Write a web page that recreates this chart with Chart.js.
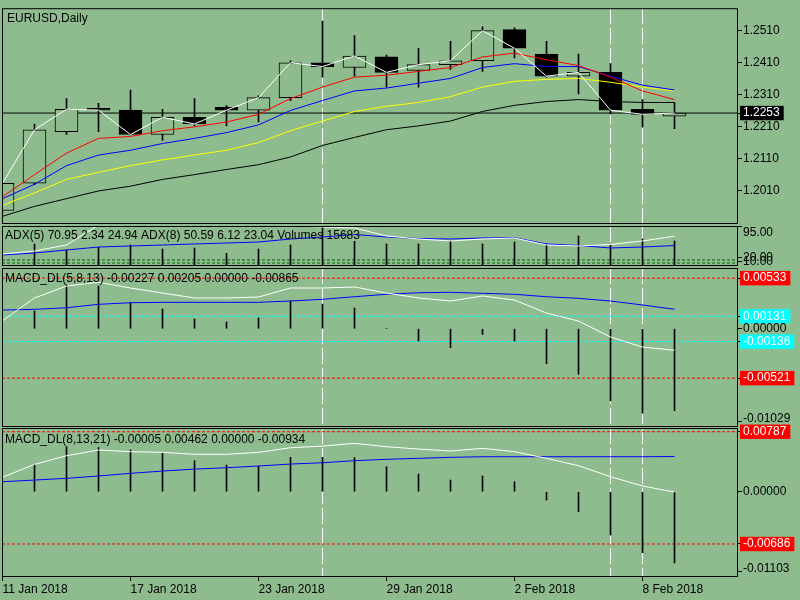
<!DOCTYPE html>
<html>
<head>
<meta charset="utf-8">
<script src="https://cdn.jsdelivr.net/npm/chart.js@4/dist/chart.umd.min.js"></script>
<style>
html, body { margin: 0; padding: 0; background: #8FBC8F; }
#wrap { position: relative; width: 800px; height: 600px; overflow: hidden; }
#wrap canvas { position: absolute; left: 0; top: 0; }
</style>
</head>
<body>
<div id="wrap">
  <canvas id="cMain" width="800" height="600"></canvas>
  <canvas id="cAdx" width="800" height="600"></canvas>
  <canvas id="cMacd1" width="800" height="600"></canvas>
  <canvas id="cMacd2" width="800" height="600"></canvas>
</div>
<script>
// bars are numbered 0..21 (11 Jan 2018 .. 9 Feb 2018, daily)
const tickBars = [0, 4, 8, 12, 16, 20];
const tickLabels = ['11 Jan 2018', '17 Jan 2018', '23 Jan 2018', '29 Jan 2018', '2 Feb 2018', '8 Feb 2018'];
const markerBars = [10, 19, 20];

const opens  = [1.1949, 1.2034, 1.2195, 1.2268, 1.2262, 1.2186, 1.2240, 1.2271, 1.2262, 1.2301, 1.2410, 1.2395, 1.2428, 1.2386, 1.2404, 1.2416, 1.2513, 1.2437, 1.2368, 1.2380, 1.2265, 1.2243];
const highs  = [1.2040, 1.2219, 1.2298, 1.2283, 1.2325, 1.2265, 1.2298, 1.2276, 1.2307, 1.2416, 1.2540, 1.2495, 1.2434, 1.2455, 1.2477, 1.2522, 1.2519, 1.2477, 1.2437, 1.2407, 1.2295, 1.2286];
const lows   = [1.1945, 1.2030, 1.2186, 1.2195, 1.2185, 1.2168, 1.2213, 1.2213, 1.2225, 1.2292, 1.2365, 1.2368, 1.2334, 1.2334, 1.2389, 1.2383, 1.2425, 1.2365, 1.2313, 1.2250, 1.2210, 1.2204];
const closes = [1.2034, 1.2201, 1.2265, 1.2262, 1.2186, 1.2240, 1.2219, 1.2262, 1.2301, 1.2410, 1.2398, 1.2431, 1.2380, 1.2404, 1.2416, 1.2510, 1.2455, 1.2368, 1.2380, 1.2262, 1.2249, 1.2253];

const maRed    = [1.1992, 1.2061, 1.2128, 1.2174, 1.2180, 1.2198, 1.2210, 1.2225, 1.2249, 1.2298, 1.2334, 1.2365, 1.2371, 1.2383, 1.2395, 1.2428, 1.2440, 1.2419, 1.2401, 1.2365, 1.2322, 1.2295];
const maBlue   = [1.1986, 1.2031, 1.2089, 1.2122, 1.2137, 1.2158, 1.2174, 1.2192, 1.2216, 1.2261, 1.2292, 1.2322, 1.2331, 1.2346, 1.2361, 1.2395, 1.2407, 1.2398, 1.2398, 1.2368, 1.2340, 1.2325];
const maYellow = [1.1965, 1.2004, 1.2046, 1.2068, 1.2089, 1.2107, 1.2122, 1.2137, 1.2161, 1.2198, 1.2228, 1.2258, 1.2274, 1.2286, 1.2304, 1.2334, 1.2352, 1.2358, 1.2361, 1.2349, 1.2334, 1.2322];
const maBlack  = [1.1931, 1.1962, 1.1986, 1.2010, 1.2025, 1.2046, 1.2061, 1.2077, 1.2092, 1.2116, 1.2152, 1.2177, 1.2201, 1.2213, 1.2228, 1.2258, 1.2277, 1.2289, 1.2295, 1.2289, 1.2286, 1.2286];
const priceTicks = [1.2010, 1.2110, 1.2210, 1.2310, 1.2410, 1.2510];

const adx5 = [28.5, 35.6, 49.9, 97, 98, 98.5, 99, 98.5, 98, 97, 92.6, 90.3, 71.3, 64.1, 59.4, 64.1, 66.5, 49.9, 47.5, 51.1, 59.4, 70.95];
const adx8 = [26.1, 30.9, 38.0, 45.1, 47.5, 49.9, 52.3, 54.6, 57.0, 64.1, 68.9, 74.8, 68.9, 65.3, 64.1, 66.5, 67.2, 52.3, 48.7, 42.8, 45.1, 48.5];
const volumes = [null, 13805, 10040, 11736, 13178, 10668, 11295, 7970, 10668, 13178, 25100, 15500, 13805, 13805, 15688, 13805, 15060, 13805, 18825, 13178, 16943, 15683];
const adxLevels = [14.3, 7.1];
const adxTicks = [20, 10];

const macd1Hist   = [null, 0.00187, 0.00461, 0.00450, 0.00271, 0.00208, 0.00102, 0.00071, 0.00113, 0.00292, 0.00260, 0.00218, 0, -0.0013, -0.0020, -0.0006, -0.0013, -0.0037, -0.0048, -0.0076, -0.0089, -0.00865];
const macd1Main   = [0.00084, 0.00324, 0.00450, 0.00490, 0.00429, 0.00376, 0.00324, 0.00324, 0.00334, 0.00429, 0.00429, 0.00440, 0.00376, 0.00324, 0.00292, 0.00345, 0.00302, 0.00165, 0.00081, -0.00087, -0.00193, -0.00227];
const macd1Signal = [0.00197, 0.00204, 0.00221, 0.00257, 0.00274, 0.00278, 0.00278, 0.00278, 0.00278, 0.00292, 0.00310, 0.00337, 0.00363, 0.00379, 0.00384, 0.00373, 0.00363, 0.00337, 0.00320, 0.00292, 0.00250, 0.00205];
const macd1Red = [0.00533, -0.00521];
const macd1Cyan = [0.00131, -0.00136];

const macd2Hist   = [null, 0.00359, 0.00590, 0.00580, 0.00547, 0.00504, 0.00407, 0.00350, 0.00337, 0.00451, 0.00451, 0.00446, 0.00328, 0.00232, 0.00153, 0.00206, 0.00131, -0.00109, -0.00262, -0.00568, -0.00800, -0.00934];
const macd2Main   = [0.00189, 0.00359, 0.00472, 0.00547, 0.00525, 0.00517, 0.00491, 0.00491, 0.00517, 0.00577, 0.00599, 0.00635, 0.00590, 0.00560, 0.00534, 0.00569, 0.00525, 0.00438, 0.00341, 0.00197, 0.00075, -0.00005];
const macd2Signal = [0.00131, 0.00153, 0.00176, 0.00206, 0.00241, 0.00271, 0.00297, 0.00315, 0.00337, 0.00363, 0.00380, 0.00407, 0.00425, 0.00438, 0.00451, 0.00459, 0.00459, 0.00459, 0.00459, 0.00459, 0.00459, 0.00462];
const macd2Red = [0.00787, -0.00686];

const BG = '#8FBC8F';
const X_MIN = -0.015625, X_MAX = 22.984375;

Chart.defaults.font.family = '"Liberation Sans", Arial, sans-serif';
Chart.defaults.font.size = 12;
Chart.defaults.color = '#000';

function pts(arr) {
  return arr.map(function (v, i) { return { x: i, y: v }; });
}

function line(arr, color, yAxis, order) {
  return { type: 'line', data: pts(arr), borderColor: color, borderWidth: 1, pointRadius: 0, tension: 0, yAxisID: yAxis || 'y', order: order || 0 };
}

function level(v, color, dash, yAxis) {
  return { type: 'line', data: [{ x: X_MIN, y: v }, { x: X_MAX, y: v }], borderColor: color, borderWidth: 1, borderDash: dash, pointRadius: 0, yAxisID: yAxis || 'y', order: 3 };
}

function hist(arr, yAxis) {
  return { type: 'bar', data: pts(arr), backgroundColor: '#000', barThickness: 1, grouped: false, yAxisID: yAxis || 'y', order: 2 };
}

function xAxis(show) {
  const s = { type: 'linear', min: X_MIN, max: X_MAX, offset: false, display: show, grid: { display: false, offset: false } };
  if (show) {
    s.grid = { display: true, offset: false, drawOnChartArea: false, drawTicks: true, tickLength: 4, color: '#000' };
    s.border = { display: false };
    s.afterBuildTicks = function (sc) { sc.ticks = tickBars.map(function (v) { return { value: v }; }); };
    s.afterFit = function (sc) { sc.height = 23; };
    s.ticks = {
      autoSkip: false, maxRotation: 0, align: 'start', padding: 1,
      callback: function (v) { const k = tickBars.indexOf(v); return k >= 0 ? tickLabels[k] : ''; }
    };
  }
  return s;
}

function rightAxis(min, max, ticks, digits, boxColor) {
  return {
    position: 'right', min: min, max: max,
    afterFit: function (s) { s.width = 62; },
    afterBuildTicks: function (s) { s.ticks = ticks.map(function (v) { return { value: v }; }); },
    grid: { drawOnChartArea: false, drawTicks: true, tickLength: 4, color: '#000', offset: false },
    border: { display: false },
    ticks: {
      autoSkip: false, padding: 1,
      callback: function (v) { return v.toFixed(digits); },
      showLabelBackdrop: true,
      backdropPadding: { top: 0, bottom: 0, left: 3, right: 4 },
      backdropColor: function (c) { return (c.tick && boxColor(c.tick.value)) || 'rgba(0,0,0,0)'; },
      color: function (c) { return (c.tick && boxColor(c.tick.value)) ? '#fff' : '#000'; }
    }
  };
}

function near(a, list) {
  return list.some(function (b) { return Math.abs(a - b) < 1e-7; });
}

// frame, titles, marker lines and edge labels of each sub window
const mtPlugin = {
  id: 'mt',
  beforeDatasetsDraw(chart) {
    const ctx = chart.ctx, a = chart.chartArea, xs = chart.scales.x;
    ctx.save();
    ctx.beginPath();
    ctx.rect(a.left, a.top, a.width, a.height);
    ctx.clip();
    ctx.strokeStyle = '#fff';
    ctx.lineWidth = 1;
    ctx.setLineDash([16, 4]);
    markerBars.forEach(function (b) {
      const px = xs.getPixelForValue(b);
      ctx.beginPath();
      ctx.moveTo(px, a.top);
      ctx.lineTo(px, a.bottom);
      ctx.stroke();
    });
    ctx.restore();
  },
  afterDraw(chart, args, o) {
    const ctx = chart.ctx, a = chart.chartArea;
    ctx.save();
    ctx.strokeStyle = '#000';
    ctx.lineWidth = 1;
    ctx.strokeRect(a.left + 0.5, a.top + 0.5, a.width - 1, a.height - 1);
    ctx.font = '12px "Liberation Sans", Arial, sans-serif';
    ctx.fillStyle = '#000';
    ctx.textBaseline = 'middle';
    ctx.textAlign = 'left';
    ctx.fillText(o.title, o.tx, a.top + o.ty);
    (o.edge || []).forEach(function (e) {
      const y = e.top ? a.top + 7 : a.bottom - 8;
      const ty = e.top ? a.top + 0.5 : a.bottom - 5.5;
      ctx.beginPath();
      ctx.moveTo(a.right, ty);
      ctx.lineTo(a.right + 4, ty);
      ctx.stroke();
      ctx.fillText(e.text, a.right + 5, y);
    });
    ctx.restore();
  }
};

function makeChart(id, datasets, pad, yScales, showX, mt) {
  const scales = { x: xAxis(showX) };
  Object.keys(yScales).forEach(function (k) { scales[k] = yScales[k]; });
  return new Chart(document.getElementById(id), {
    type: 'bar',
    data: { datasets: datasets },
    plugins: [mtPlugin],
    options: {
      responsive: false, animation: false, devicePixelRatio: 1, events: [],
      layout: { padding: pad, autoPadding: false },
      scales: scales,
      plugins: { legend: { display: false }, tooltip: { enabled: false }, mt: mt }
    }
  });
}

// main price window
const lastClose = closes[closes.length - 1];
makeChart('cMain', [
    line(closes, '#ffffff'),
    line(maRed, '#ff0000'),
    line(maBlue, '#0000ff'),
    line(maYellow, '#ffff00'),
    line(maBlack, '#000000'),
    {
      type: 'bar', order: 1, grouped: false, barThickness: 23,
      data: opens.map(function (op, i) { return { x: i, y: [op, closes[i]] }; }),
      backgroundColor: opens.map(function (op, i) { return closes[i] < op ? '#000' : BG; }),
      borderColor: '#000', borderWidth: 1, borderSkipped: false
    },
    {
      type: 'bar', order: 2, grouped: false, barThickness: 1,
      data: lows.map(function (l, i) { return { x: i, y: [l, highs[i]] }; }),
      backgroundColor: '#000'
    },
    level(lastClose, '#000', [])
  ],
  { left: 2, right: 0, top: 2, bottom: 376 },
  { y: rightAxis(1.1907, 1.2580, priceTicks.concat([lastClose]), 4, function (v) { return Math.abs(v - lastClose) < 1e-7 ? '#000' : null; }) },
  false,
  { title: 'EURUSD,Daily', tx: 7, ty: 10 });

// ADX + volumes window
makeChart('cAdx', [
    line(adx5, '#ffffff'),
    line(adx8, '#0000ff'),
    level(adxLevels[0], '#006400', [3, 2]),
    level(adxLevels[1], '#006400', [3, 2]),
    hist(volumes, 'yVol')
  ],
  { left: 2, right: 0, top: 226, bottom: 334 },
  {
    y: rightAxis(0, 95, adxTicks, 2, function () { return null; }),
    yVol: { display: false, min: 0, max: 25100 }
  },
  false,
  { title: 'ADX(5) 70.95 2.34 24.94 ADX(8) 50.59 6.12 23.04 Volumes 15683', tx: 5, ty: 10, edge: [{ top: true, text: '95.00' }] });

// MACD_DL(5,8,13)
makeChart('cMacd1', [
    line(macd1Main, '#ffffff'),
    line(macd1Signal, '#0000ff'),
    hist(macd1Hist),
    level(macd1Red[0], '#ff0000', [3, 2]),
    level(macd1Red[1], '#ff0000', [3, 2]),
    level(macd1Cyan[0], '#00ffff', [4, 2]),
    level(macd1Cyan[1], '#00ffff', [4, 2])
  ],
  { left: 2, right: 0, top: 268, bottom: 173 },
  { y: rightAxis(-0.01036, 0.00640, macd1Red.concat(macd1Cyan, [0]), 5, function (v) {
      if (near(v, macd1Red)) return '#ff0000';
      if (near(v, macd1Cyan)) return '#00ffff';
      return null;
    }) },
  false,
  { title: 'MACD_DL(5,8,13) -0.00227 0.00205 0.00000 -0.00865', tx: 5, ty: 10.5, edge: [{ top: false, text: '-0.01029' }] });

// MACD_DL(8,13,21)
makeChart('cMacd2', [
    line(macd2Main, '#ffffff'),
    line(macd2Signal, '#0000ff'),
    hist(macd2Hist),
    level(macd2Red[0], '#ff0000', [3, 2]),
    level(macd2Red[1], '#ff0000', [3, 2])
  ],
  { left: 2, right: 0, top: 428, bottom: 0 },
  { y: rightAxis(-0.01119, 0.00836, macd2Red.concat([0]), 5, function (v) { return near(v, macd2Red) ? '#ff0000' : null; }) },
  true,
  { title: 'MACD_DL(8,13,21) -0.00005 0.00462 0.00000 -0.00934', tx: 5, ty: 12, edge: [{ top: false, text: '-0.01103' }] });
</script>
</body>
</html>
